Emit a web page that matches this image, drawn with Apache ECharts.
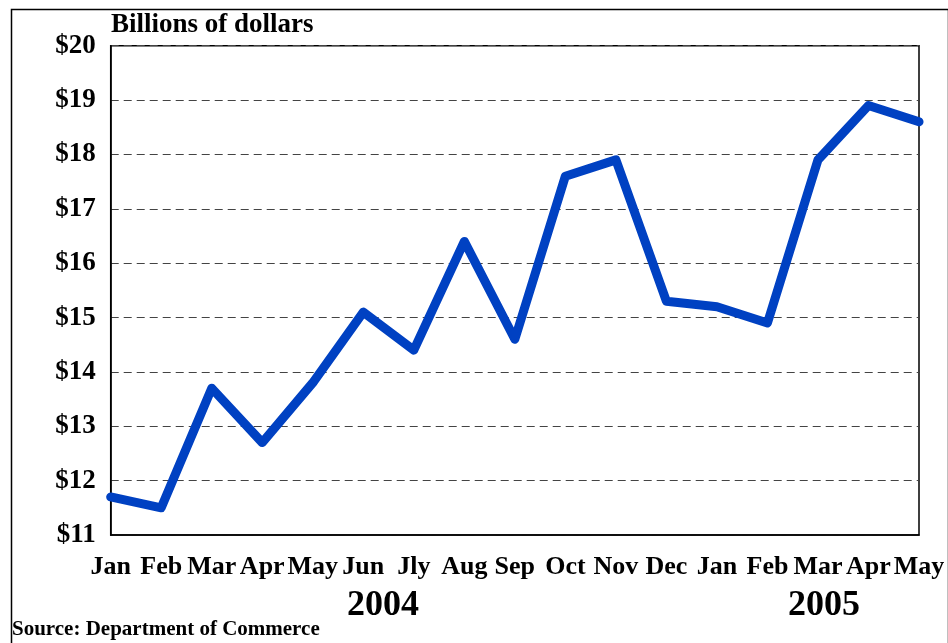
<!DOCTYPE html>
<html>
<head>
<meta charset="utf-8">
<script src="https://cdn.jsdelivr.net/npm/echarts@6/dist/echarts.min.js"></script>
<style>
html,body{margin:0;padding:0;background:#fff;}
#main{width:948px;height:643px;}
</style>
</head>
<body>
<div id="main"></div>
<script>
var categories = ['Jan','Feb','Mar','Apr','May','Jun','Jly','Aug','Sep','Oct','Nov','Dec','Jan','Feb','Mar','Apr','May'];
var values = [11.7, 11.5, 13.7, 12.7, 13.8, 15.1, 14.4, 16.4, 14.6, 17.6, 17.9, 15.3, 15.2, 14.9, 17.9, 18.9, 18.6];
var yMin = 11, yMax = 20, yStep = 1;
var years = ['2004', '2005'];
var unitLabel = 'Billions of dollars';
var sourceText = 'Source: Department of Commerce';

var FONT = '"Liberation Serif","Times New Roman",serif';
var chart = echarts.init(document.getElementById('main'), null, {renderer:'canvas'});
chart.setOption({
  animation: false,
  backgroundColor: '#fff',
  grid: {left: 110.7, right: 29, top: 45.7, bottom: 108, show: true, borderColor: '#000', borderWidth: 1.5, backgroundColor: 'transparent'},
  xAxis: {
    type: 'category', data: categories, boundaryGap: false,
    axisLine: {show: true, lineStyle: {color: '#000', width: 1.5}},
    axisTick: {show: false},
    splitLine: {show: false},
    axisLabel: {color: '#000', fontFamily: FONT, fontWeight: 'bold', fontSize: 26, margin: 19, interval: 0}
  },
  yAxis: {
    type: 'value', min: yMin, max: yMax, interval: yStep,
    axisLine: {show: true, lineStyle: {color: '#000', width: 1.5}},
    axisTick: {show: false},
    splitLine: {show: true, lineStyle: {color: '#444', width: 1.2, type: [8, 5]}},
    axisLabel: {color: '#000', fontFamily: FONT, fontWeight: 'bold', fontSize: 27, margin: 15, formatter: function(v){return '$' + v;}}
  },
  series: [{
    type: 'line', data: values, symbol: 'none',
    lineStyle: {color: '#0041C2', width: 9, cap: 'round', join: 'round'},
    z: 3
  }],
  graphic: [
    {type: 'rect', left: 9, top: 7, shape: {width: 937, height: 645}, style: {fill: 'none', stroke: '#000', lineWidth: 1.5}, silent: true},
    {type: 'text', left: 111, top: 12, style: {text: unitLabel, font: 'bold 27px ' + FONT, fill: '#000'}},
    {type: 'text', left: 12, top: 619, style: {text: sourceText, font: 'bold 21px ' + FONT, fill: '#000'}},
    {type: 'text', x: 383, y: 606, style: {text: years[0], font: 'bold 36px ' + FONT, fill: '#000', textAlign: 'center', textVerticalAlign: 'middle'}},
    {type: 'text', x: 824, y: 606, style: {text: years[1], font: 'bold 36px ' + FONT, fill: '#000', textAlign: 'center', textVerticalAlign: 'middle'}}
  ]
});
</script>
</body>
</html>
